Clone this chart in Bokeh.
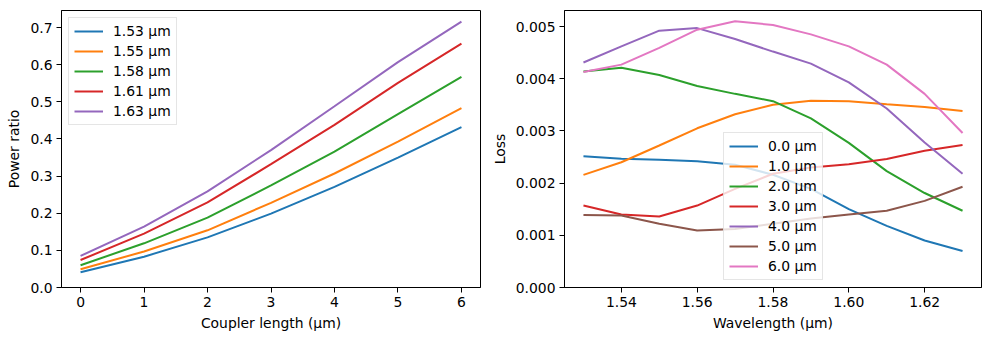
from bokeh.plotting import figure
from bokeh.layouts import row
from bokeh.models import FixedTicker, PrintfTickFormatter, Range1d, Legend, LegendItem
from bokeh.embed import file_html
from bokeh.resources import INLINE

# ---- data ----
coupler_lengths = [0, 1, 2, 3, 4, 5, 6]
wl_labels = ["1.53 µm", "1.55 µm", "1.58 µm", "1.61 µm", "1.63 µm"]
ratio_153 = [0.041, 0.083, 0.135, 0.199, 0.271, 0.350, 0.432]
ratio_155 = [0.049, 0.097, 0.154, 0.228, 0.307, 0.393, 0.483]
ratio_158 = [0.060, 0.119, 0.188, 0.275, 0.366, 0.467, 0.567]
ratio_161 = [0.074, 0.145, 0.229, 0.332, 0.438, 0.551, 0.657]
ratio_163 = [0.085, 0.164, 0.259, 0.370, 0.488, 0.607, 0.716]

wavelengths = [1.53, 1.54, 1.55, 1.56, 1.57, 1.58, 1.59, 1.60, 1.61, 1.62, 1.63]
len_labels = ["0.0 µm", "1.0 µm", "2.0 µm", "3.0 µm", "4.0 µm", "5.0 µm", "6.0 µm"]
loss_0 = [2.516, 2.465, 2.446, 2.42, 2.35, 2.16, 1.89, 1.50, 1.18, 0.90, 0.70]
loss_1 = [2.157, 2.40, 2.72, 3.05, 3.32, 3.50, 3.58, 3.57, 3.51, 3.46, 3.38]
loss_2 = [4.14, 4.21, 4.07, 3.86, 3.71, 3.57, 3.24, 2.77, 2.23, 1.81, 1.47]
loss_3 = [1.57, 1.40, 1.36, 1.57, 1.89, 2.18, 2.30, 2.36, 2.46, 2.62, 2.73]
loss_4 = [4.31, 4.62, 4.92, 4.97, 4.76, 4.52, 4.29, 3.93, 3.43, 2.78, 2.18]
loss_5 = [1.39, 1.38, 1.22, 1.09, 1.12, 1.22, 1.32, 1.40, 1.47, 1.66, 1.93]
loss_6 = [4.13, 4.27, 4.59, 4.94, 5.10, 5.03, 4.85, 4.62, 4.27, 3.71, 2.96]
loss_scale = 1e-3

x_ticks_left = [0, 1, 2, 3, 4, 5, 6]
y_ticks_left = [0.0, 0.1, 0.2, 0.3, 0.4, 0.5, 0.6, 0.7]
x_ticks_right = [1.54, 1.56, 1.58, 1.60, 1.62]
y_ticks_right = [0.0, 0.001, 0.002, 0.003, 0.004, 0.005]

colors = ["#1f77b4", "#ff7f0e", "#2ca02c", "#d62728", "#9467bd", "#8c564b", "#e377c2"]
FONT = "DejaVu Sans"
FS = "13.9px"


def style(p):
    p.outline_line_color = "black"
    p.outline_line_width = 1
    p.outline_line_alpha = 1
    p.xgrid.visible = False
    p.ygrid.visible = False
    p.background_fill_color = "white"
    p.border_fill_color = "white"
    for ax in (p.xaxis[0], p.yaxis[0]):
        ax.axis_line_color = "black"
        ax.major_tick_line_color = "black"
        ax.minor_tick_line_color = None
        ax.major_tick_in = 0
        ax.major_tick_out = 5
        ax.major_label_standoff = 4
        ax.major_label_text_font = FONT
        ax.major_label_text_font_size = FS
        ax.major_label_text_color = "black"
        ax.axis_label_text_font = FONT
        ax.axis_label_text_font_size = FS
        ax.axis_label_text_font_style = "normal"
        ax.axis_label_text_color = "black"
        ax.axis_label_standoff = 5


def make_legend(items, location):
    lg = Legend(items=items, location=location)
    lg.label_text_font = FONT
    lg.label_text_font_size = FS
    lg.label_text_color = "black"
    lg.glyph_width = 29
    lg.glyph_height = 14
    lg.label_height = 14
    lg.label_standoff = 10
    lg.spacing = 4
    lg.padding = 5
    lg.margin = 7
    lg.border_line_color = "#cccccc"
    lg.border_line_width = 1
    lg.background_fill_color = "white"
    lg.background_fill_alpha = 0.8
    return lg


# ---- left plot ----
p1 = figure(width=485, height=340, output_backend="svg", toolbar_location=None,
            x_range=Range1d(-0.3, 6.3), y_range=Range1d(0, 0.746),
            min_border_left=61, min_border_right=5, min_border_top=10, min_border_bottom=53)
style(p1)
p1.xaxis.axis_label = "Coupler length (µm)"
p1.yaxis.axis_label = "Power ratio"
p1.xaxis.ticker = FixedTicker(ticks=x_ticks_left)
p1.yaxis.ticker = FixedTicker(ticks=y_ticks_left)
p1.xaxis.formatter = PrintfTickFormatter(format="%d")
p1.yaxis.formatter = PrintfTickFormatter(format="%.1f")

items1 = []
for lab, ys, c in zip(wl_labels, [ratio_153, ratio_155, ratio_158, ratio_161, ratio_163], colors):
    r = p1.line(coupler_lengths, ys, line_color=c, line_width=2)
    items1.append(LegendItem(label=lab, renderers=[r]))
p1.add_layout(make_legend(items1, "top_left"))

# ---- right plot ----
p2 = figure(width=504, height=340, output_backend="svg", toolbar_location=None,
            x_range=Range1d(1.525, 1.635), y_range=Range1d(0, 0.005307),
            min_border_left=79, min_border_right=8, min_border_top=10, min_border_bottom=53)
style(p2)
p2.xaxis.axis_label = "Wavelength (µm)"
p2.yaxis.axis_label = "Loss"
p2.xaxis.ticker = FixedTicker(ticks=x_ticks_right)
p2.yaxis.ticker = FixedTicker(ticks=y_ticks_right)
p2.xaxis.formatter = PrintfTickFormatter(format="%.2f")
p2.yaxis.formatter = PrintfTickFormatter(format="%.3f")

items2 = []
for lab, ys, c in zip(len_labels, [loss_0, loss_1, loss_2, loss_3, loss_4, loss_5, loss_6], colors):
    r = p2.line(wavelengths, [v * loss_scale for v in ys], line_color=c, line_width=2)
    items2.append(LegendItem(label=lab, renderers=[r]))
lg2 = make_legend(items2, (159, 7))
lg2.margin = 0
p2.add_layout(lg2)

layout = row(p1, p2)
open("out.html", "w").write(file_html(layout, INLINE))
